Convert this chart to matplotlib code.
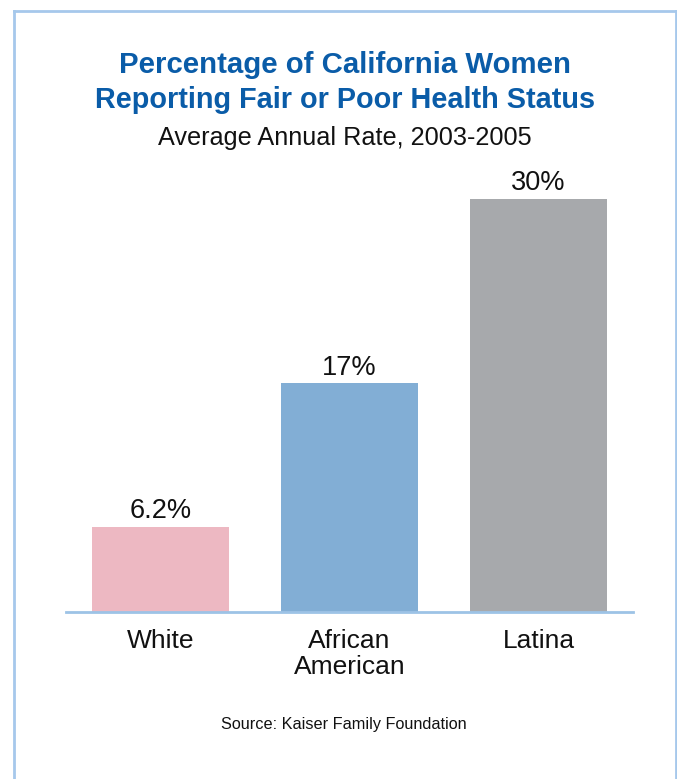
import matplotlib
matplotlib.use("Agg")
import matplotlib.pyplot as plt
from matplotlib.lines import Line2D

categories = ["White", "African\nAmerican", "Latina"]
values = [6.2, 16.6, 30.0]
value_labels = ["6.2%", "17%", "30%"]
colors = ["#EDB8C2", "#82AED5", "#A7A9AC"]

font = "Liberation Sans"

W, H = 677, 779
fig = plt.figure(figsize=(W / 100, H / 100), dpi=100)
fig.patch.set_facecolor("white")

def fx(px):
    return px / W

def fy(py):
    return 1 - py / H

# frame
frame_c = "#A6C8EB"
for xs, ys in [([13.5, 13.5], [779, 10.5]), ([13.5, 675.5], [10.5, 10.5]), ([675.5, 675.5], [10.5, 779])]:
    fig.add_artist(Line2D([fx(v) for v in xs], [fy(v) for v in ys], color=frame_c, lw=2.0,
                          transform=fig.transFigure))

ax = fig.add_axes([fx(66), fy(612), fx(633) - fx(66), fy(199) - fy(612)])
x = list(range(len(categories)))
ax.bar(x, values, width=0.725, color=colors, zorder=2)
ax.set_xlim(-0.5, 2.5)
ax.set_ylim(0, max(values))
for s in ["top", "right", "left"]:
    ax.spines[s].set_visible(False)
ax.spines["bottom"].set_color("#9DC3E6")
ax.spines["bottom"].set_linewidth(2)
ax.set_yticks([])
ax.set_xticks(x)
ax.set_xticklabels(categories, fontsize=19, family=font, linespacing=1.1)
ax.tick_params(axis="x", length=0, pad=12, colors="#111111")

for xi, v, lab in zip(x, values, value_labels):
    ax.annotate(lab, (xi, v), xytext=(0, 2), textcoords="offset points",
                ha="center", va="bottom", fontsize=19.5, family=font,
                color="#111111", annotation_clip=False)

cx = fx(345)
fig.text(cx, fy(65), "Percentage of California Women", ha="center", va="center",
         fontsize=21.2, fontweight="bold", family=font, color="#0A5CA8")
fig.text(cx, fy(100), "Reporting Fair or Poor Health Status", ha="center", va="center",
         fontsize=20.8, fontweight="bold", family=font, color="#0A5CA8")
fig.text(cx, fy(138), "Average Annual Rate, 2003-2005", ha="center", va="center",
         fontsize=18.2, family=font, color="#111111")
fig.text(fx(344), fy(725), "Source: Kaiser Family Foundation", ha="center", va="center",
         fontsize=11.7, family=font, color="#111111")

fig.savefig("out.png", dpi=100)
